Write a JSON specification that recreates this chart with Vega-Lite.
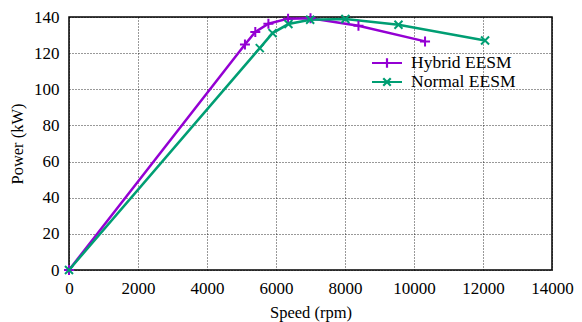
{
  "$schema": "https://vega.github.io/schema/vega-lite/v6.json",
  "autosize": "none",
  "width": 483,
  "height": 253,
  "padding": {"left": 69, "top": 17, "right": 30, "bottom": 52},
  "background": "white",
  "config": {
    "font": "Liberation Serif",
    "style": {
      "guide-label": {"font": "Liberation Serif", "fill": "#000"},
      "guide-title": {"font": "Liberation Serif", "fill": "#000"}
    },
    "view": {"stroke": "black", "strokeWidth": 1.5},
    "axis": {
      "domain": false,
      "ticks": false,
      "grid": true,
      "gridColor": "#000",
      "gridDash": [1, 2],
      "gridWidth": 1,
      "gridOpacity": 0.8,
      "labelFont": "Liberation Serif",
      "labelFontSize": 17,
      "labelColor": "#000",
      "labelFlush": false,
      "titleFont": "Liberation Serif",
      "titleFontSize": 16.5,
      "titleFontWeight": "normal",
      "titleColor": "#000"
    },
    "legend": {"labelFont": "Liberation Serif"}
  },
  "data": {
    "values": [
      {"series": "Hybrid EESM", "speed": 0, "power": 0},
      {"series": "Hybrid EESM", "speed": 5100, "power": 124.8},
      {"series": "Hybrid EESM", "speed": 5400, "power": 131.7},
      {"series": "Hybrid EESM", "speed": 5780, "power": 136.3},
      {"series": "Hybrid EESM", "speed": 6350, "power": 139.1},
      {"series": "Hybrid EESM", "speed": 7000, "power": 139.3},
      {"series": "Hybrid EESM", "speed": 8390, "power": 135.2},
      {"series": "Hybrid EESM", "speed": 10320, "power": 126.5},
      {"series": "Normal EESM", "speed": 0, "power": 0},
      {"series": "Normal EESM", "speed": 5530, "power": 122.8},
      {"series": "Normal EESM", "speed": 5900, "power": 131.1},
      {"series": "Normal EESM", "speed": 6360, "power": 136.1},
      {"series": "Normal EESM", "speed": 6990, "power": 138.5},
      {"series": "Normal EESM", "speed": 8010, "power": 138.9},
      {"series": "Normal EESM", "speed": 9550, "power": 135.7},
      {"series": "Normal EESM", "speed": 12060, "power": 127.0}
    ]
  },
  "encoding": {
    "x": {
      "field": "speed", "type": "quantitative",
      "scale": {"domain": [0, 14000], "nice": false},
      "axis": {"values": [0, 2000, 4000, 6000, 8000, 10000, 12000, 14000], "title": "Speed (rpm)", "labelFont": "Liberation Serif", "labelPadding": 10, "titlePadding": 8, "format": "d"}
    },
    "y": {
      "field": "power", "type": "quantitative",
      "scale": {"domain": [0, 140], "nice": false},
      "axis": {"values": [0, 20, 40, 60, 80, 100, 120, 140], "title": "Power (kW)", "labelFont": "Liberation Serif", "labelPadding": 10, "titlePadding": 8}
    },
    "color": {
      "field": "series", "type": "nominal",
      "scale": {"domain": ["Hybrid EESM", "Normal EESM"], "range": ["#9400D3", "#009E73"]},
      "legend": {
        "title": null,
        "orient": "none",
        "legendX": 309,
        "legendY": 37,
        "padding": 0,
        "labelFont": "Liberation Serif",
        "labelFontSize": 17.5,
        "labelColor": "#000",
        "labelOffset": 15,
        "symbolSize": 225,
        "symbolStrokeWidth": 2.2,
        "rowPadding": -2,
        "encode": {
          "symbols": {
            "update": {
              "shape": {"signal": "datum.value === 'Hybrid EESM' ? 'M-2,0L2,0M0,-0.64L0,0.64M-0.64,0L0.64,0' : 'M-2,0L2,0M-0.5,-0.5L0.5,0.5M-0.5,0.5L0.5,-0.5'"},
              "fill": {"value": "transparent"},
              "strokeWidth": {"value": 2.2}
            }
          }
        }
      }
    }
  },
  "layer": [
    {
      "mark": {"type": "line", "strokeWidth": 2.5},
      "encoding": {"detail": {"field": "series"}}
    },
    {
      "transform": [{"filter": "datum.series === 'Hybrid EESM'"}],
      "mark": {"type": "point", "filled": false, "strokeWidth": 2, "opacity": 1, "shape": "M-1,0L1,0M0,-1L0,1", "size": 100}
    },
    {
      "transform": [{"filter": "datum.series === 'Normal EESM'"}],
      "mark": {"type": "point", "filled": false, "strokeWidth": 2, "opacity": 1, "shape": "M-1,-1L1,1M-1,1L1,-1", "size": 64}
    }
  ]
}
